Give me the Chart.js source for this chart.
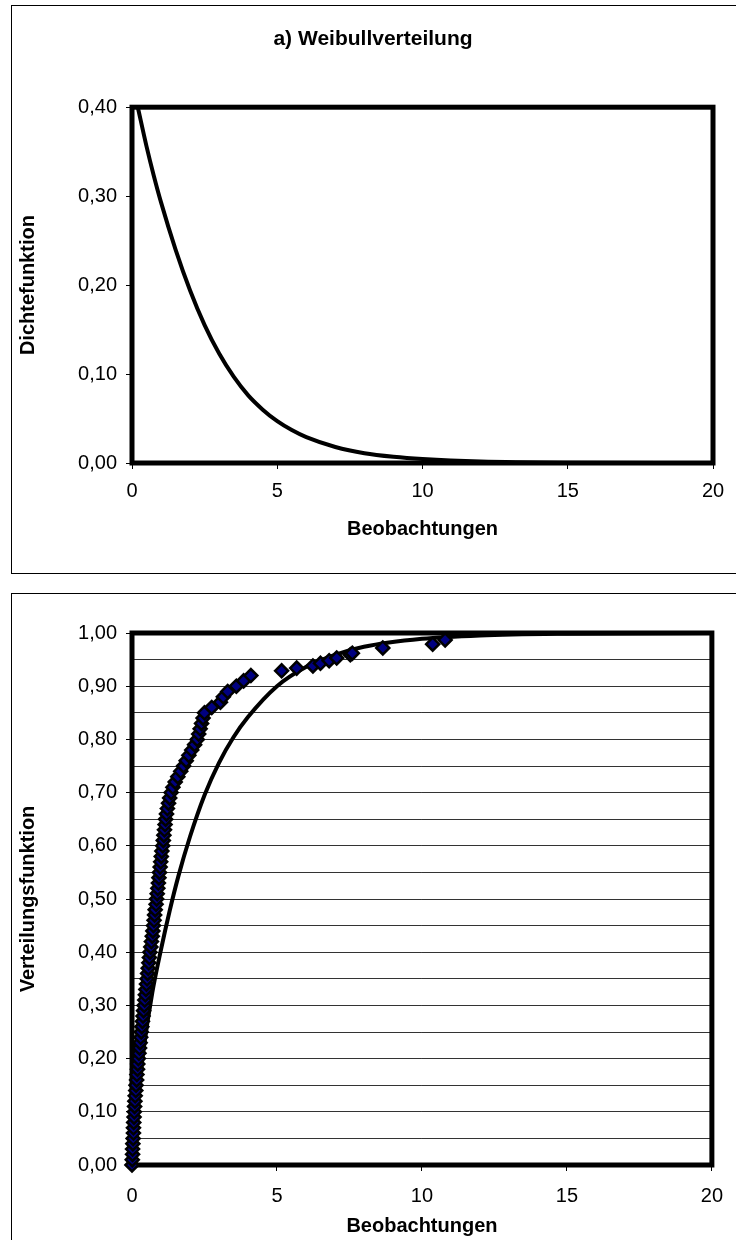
<!DOCTYPE html>
<html>
<head>
<meta charset="utf-8">
<script src="https://cdn.jsdelivr.net/npm/chart.js@4.4.1/dist/chart.umd.min.js"></script>
<style>
  html, body { margin: 0; padding: 0; background: #fff; overflow: hidden; }
  body { width: 736px; height: 1240px; position: relative; }
  .frame { position: absolute; border: 1.5px solid #000; box-sizing: border-box; }
  #frameA { left: 11px; top: 5px; width: 760px; height: 569px; }
  #frameB { left: 11px; top: 593px; width: 760px; height: 700px; }
  canvas { position: absolute; left: 0; }
  #dichte { top: 0; }
  #verteilung { top: 580px; }
</style>
</head>
<body>
<div class="frame" id="frameA"></div>
<div class="frame" id="frameB"></div>
<canvas id="dichte" width="736" height="580"></canvas>
<canvas id="verteilung" width="736" height="660"></canvas>
<script>
"use strict"

// Dichtefunktion der angepassten Weibullverteilung
const dichteX = [0.2, 0.5, 0.75, 1, 1.5, 2, 2.5, 3, 3.5, 4, 4.5, 5, 5.5, 6, 7, 8, 9, 10, 12, 15, 20];
const dichteY = [0.40, 0.356, 0.323, 0.293, 0.240, 0.194, 0.155, 0.123, 0.097, 0.076, 0.060, 0.047, 0.037, 0.029, 0.018, 0.011, 0.007, 0.0045, 0.0017, 0.0004, 0.00005];

// Verteilungsfunktion (Linie)
const vertX = [0, 0.2, 0.4, 0.7, 1.0, 1.3, 1.6, 2.0, 2.5, 3.0, 3.5, 4.0, 5.0, 6.0, 7.0, 8.0, 10, 12, 15, 20];
const vertY = [0, 0.122, 0.217, 0.324, 0.405, 0.478, 0.543, 0.617, 0.695, 0.756, 0.804, 0.842, 0.900, 0.936, 0.959, 0.974, 0.989, 0.9955, 0.9988, 1.0];

// empirische Verteilung der Beobachtungen
const beobX = [0.00, 0.01, 0.02, 0.02, 0.03, 0.04, 0.05, 0.05, 0.06, 0.07, 0.08, 0.09, 0.10, 0.11, 0.13, 0.14,
  0.16, 0.17, 0.19, 0.20, 0.22, 0.24, 0.26, 0.28, 0.30, 0.32, 0.34, 0.36, 0.38, 0.40, 0.42, 0.44, 0.46, 0.48,
  0.50, 0.52, 0.54, 0.56, 0.58, 0.60, 0.62, 0.65, 0.67, 0.70, 0.72, 0.74, 0.76, 0.78, 0.80, 0.83, 0.85, 0.87,
  0.89, 0.91, 0.93, 0.95, 0.97, 0.99, 1.01, 1.03, 1.06, 1.08, 1.10, 1.12, 1.14, 1.16, 1.19, 1.22, 1.26, 1.30,
  1.35, 1.41, 1.49, 1.58, 1.68, 1.78, 1.87, 1.96, 2.06, 2.16, 2.25, 2.30, 2.35, 2.40, 2.45, 2.50, 2.75, 3.05,
  3.15, 3.30, 3.60, 3.85, 4.10,
  5.16, 5.68, 6.24, 6.50, 6.80, 7.06, 7.53, 7.60, 8.65, 10.37, 10.80];
const beobY = [0.00, 0.01, 0.02, 0.03, 0.04, 0.05, 0.06, 0.07, 0.08, 0.09, 0.10, 0.11, 0.12, 0.13, 0.14, 0.15,
  0.16, 0.17, 0.18, 0.19, 0.20, 0.21, 0.22, 0.23, 0.24, 0.25, 0.26, 0.27, 0.28, 0.29, 0.30, 0.31, 0.32, 0.33,
  0.34, 0.35, 0.36, 0.37, 0.38, 0.39, 0.40, 0.41, 0.42, 0.43, 0.44, 0.45, 0.46, 0.47, 0.48, 0.49, 0.50, 0.51,
  0.52, 0.53, 0.54, 0.55, 0.56, 0.57, 0.58, 0.59, 0.60, 0.61, 0.62, 0.63, 0.64, 0.65, 0.66, 0.67, 0.68, 0.69,
  0.70, 0.71, 0.72, 0.73, 0.74, 0.75, 0.76, 0.77, 0.78, 0.79, 0.80, 0.81, 0.82, 0.83, 0.84, 0.85, 0.86, 0.87,
  0.88, 0.89, 0.90, 0.91, 0.92,
  0.929, 0.934, 0.938, 0.943, 0.948, 0.953, 0.959, 0.962, 0.972, 0.979, 0.987];

const xTicks = [0, 5, 10, 15, 20];

const schrift = "'Liberation Sans', Arial, sans-serif";
Chart.defaults.font.family = schrift;
Chart.defaults.color = '#000';

function punkte(xs, ys) {
  return xs.map((x, i) => ({ x: x, y: ys[i] }));
}

function komma(v) {
  return v.toFixed(2).replace('.', ',');
}

// dicker Rahmen um die Zeichenfläche
const rahmen = {
  id: 'rahmen',
  beforeDatasetsDraw(chart) {
    const { ctx, chartArea: a } = chart;
    ctx.save();
    ctx.lineWidth = 5;
    ctx.strokeStyle = '#000';
    ctx.strokeRect(a.left, a.top, a.right - a.left, a.bottom - a.top);
    ctx.restore();
  }
};

// Überschrift etwas nach rechts rücken
const titelVersatz = {
  id: 'titelVersatz',
  afterLayout(chart) {
    if (chart.titleBlock) chart.titleBlock.left += 22;
  }
};

function xAchse(hoehe, abstand, tickAbstand) {
  return {
    type: 'linear',
    min: 0,
    max: 20,
    afterBuildTicks: (s) => { s.ticks = xTicks.map(v => ({ value: v })); },
    afterFit: (s) => { s.height = hoehe; },
    border: { display: false },
    grid: { drawOnChartArea: false, tickLength: 6, tickColor: '#000' },
    ticks: { font: { size: 20 }, padding: tickAbstand },
    title: { display: true, text: 'Beobachtungen', font: { size: 20, weight: 'bold' }, padding: { top: 0, bottom: abstand } }
  };
}

// a) Dichtefunktion
new Chart(document.getElementById('dichte'), {
  type: 'scatter',
  data: {
    datasets: [{
      data: punkte(dichteX, dichteY),
      showLine: true,
      borderColor: '#000',
      borderWidth: 4,
      pointRadius: 0,
      cubicInterpolationMode: 'monotone',
      clip: false
    }]
  },
  options: {
    responsive: false,
    animation: false,
    layout: { padding: { left: 11, right: 23, top: 0, bottom: 0 } },
    plugins: {
      legend: { display: false },
      tooltip: { enabled: false },
      title: {
        display: true,
        text: 'a) Weibullverteilung',
        font: { size: 21, weight: 'bold' },
        padding: { top: 27, bottom: 55 }
      }
    },
    scales: {
      x: xAchse(117, 39, 10),
      y: {
        min: 0,
        max: 0.4,
        ticks: { stepSize: 0.1, font: { size: 20 }, padding: 9, callback: (v) => komma(v) },
        afterFit: (s) => { s.width = 121; },
        border: { display: false },
        grid: { drawOnChartArea: false, tickLength: 6, tickColor: '#000' },
        title: { display: true, text: 'Dichtefunktion', font: { size: 20, weight: 'bold' }, padding: { top: 5, bottom: 0 } }
      }
    }
  },
  plugins: [rahmen, titelVersatz]
});

// b) Verteilungsfunktion mit den Beobachtungen
new Chart(document.getElementById('verteilung'), {
  type: 'scatter',
  data: {
    datasets: [{
      data: punkte(beobX, beobY),
      pointStyle: 'rectRot',
      pointRadius: 6.5,
      backgroundColor: '#000080',
      borderColor: '#000',
      borderWidth: 2.5,
      clip: false
    }, {
      data: punkte(vertX, vertY),
      showLine: true,
      borderColor: '#000',
      borderWidth: 4,
      pointRadius: 0,
      cubicInterpolationMode: 'monotone',
      clip: false
    }]
  },
  options: {
    responsive: false,
    animation: false,
    layout: { padding: { left: 11, right: 23, top: 53, bottom: 0 } },
    plugins: {
      legend: { display: false },
      tooltip: { enabled: false }
    },
    scales: {
      x: xAchse(75, 2, 13),
      y: {
        min: 0,
        max: 1,
        ticks: {
          stepSize: 0.05,
          autoSkip: false,
          font: { size: 20 },
          padding: 9,
          callback: (v) => Math.round(v * 100) % 10 === 0 ? komma(v) : ''
        },
        afterFit: (s) => { s.width = 121; },
        border: { display: false },
        grid: {
          color: '#333',
          lineWidth: 1,
          tickLength: 6,
          tickColor: (c) => (c.tick && Math.round(c.tick.value * 100) % 10 === 0) ? '#000' : 'rgba(0,0,0,0)'
        },
        title: { display: true, text: 'Verteilungsfunktion', font: { size: 20, weight: 'bold' }, padding: { top: 5, bottom: 0 } }
      }
    }
  },
  plugins: [rahmen]
});
</script>
</body>
</html>
